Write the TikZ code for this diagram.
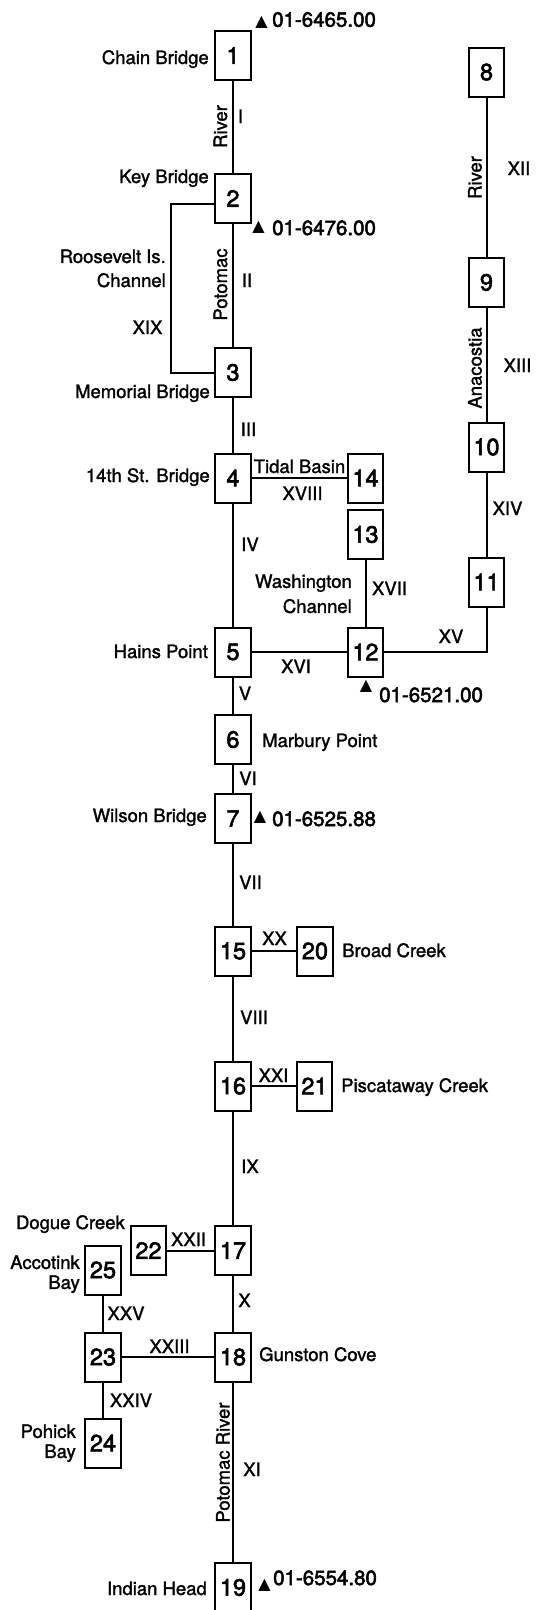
\documentclass[tikz,border=0pt]{standalone}
\usepackage{fontspec}
\setmainfont{TeX Gyre Heros}[FakeBold=1.5]
\newfontfamily\numfont{TeX Gyre Heros}[FakeBold=2.5]
\newfontfamily\symfont{DejaVu Sans}
\begin{document}
\begin{tikzpicture}[x=1pt,y=-1pt,
  box/.style={draw,line width=2pt,minimum width=35.5pt,minimum height=49pt,inner sep=0pt,font=\numfont\fontsize{23.5}{23.5}\selectfont},
  lbl/.style={inner sep=0pt,font=\fontsize{18.5}{24}\selectfont},
  rn/.style={lbl,anchor=base},
  lft/.style={lbl,anchor=base east},
  rgt/.style={lbl,anchor=base west},
  vlbl/.style={lbl,rotate=90},
  gauge/.style={inner sep=0pt,anchor=base west,font=\numfont\fontsize{20.5}{24}\selectfont},
  tri/.style={inner sep=0pt,font=\symfont\fontsize{16}{16}\selectfont},
  conn/.style={line width=2pt}]
\useasboundingbox (0,0) rectangle (540,1610);
\fill[white] (0,0) rectangle (540,1610);
% boxes
\node[box] (n1) at (233,55.5) {1};
\node[box] (n2) at (233,198.5) {2};
\node[box] (n3) at (233,372.5) {3};
\node[box] (n4) at (233,478) {4};
\node[box] (n5) at (233,652) {5};
\node[box] (n6) at (233,739.5) {6};
\node[box] (n7) at (233,818.5) {7};
\node[box] (n15) at (233,951) {15};
\node[box] (n16) at (233,1086) {16};
\node[box] (n17) at (233,1250.5) {17};
\node[box] (n18) at (233,1357) {18};
\node[box] (n19) at (233,1587.5) {19};
\node[box] (n8) at (486.5,72) {8};
\node[box] (n9) at (486.5,282.5) {9};
\node[box] (n10) at (486.5,447) {10};
\node[box] (n11) at (486.5,582) {11};
\node[box] (n12) at (365.5,652) {12};
\node[box] (n13) at (365.5,534.5) {13};
\node[box] (n14) at (365.5,478) {14};
\node[box] (n20) at (315,951) {20};
\node[box] (n21) at (314.5,1086) {21};
\node[box] (n22) at (148.5,1250.5) {22};
\node[box] (n23) at (103,1357) {23};
\node[box] (n24) at (103,1443) {24};
\node[box] (n25) at (103,1270) {25};
% connectors
\draw[conn] (n1) -- (n2);
\draw[conn] (n2) -- (n3);
\draw[conn] (n3) -- (n4);
\draw[conn] (n4) -- (n5);
\draw[conn] (n5) -- (n6);
\draw[conn] (n6) -- (n7);
\draw[conn] (n7) -- (n15);
\draw[conn] (n15) -- (n16);
\draw[conn] (n16) -- (n17);
\draw[conn] (n17) -- (n18);
\draw[conn] (n18) -- (n19);
\draw[conn] (n8) -- (n9);
\draw[conn] (n9) -- (n10);
\draw[conn] (n10) -- (n11);
\draw[conn] (n12) -| (n11);
\draw[conn] (n5) -- (n12);
\draw[conn] (n13) -- (n12);
\draw[conn] (n4) -- (n14);
\coordinate (c19) at (171,204);
\draw[conn] ([yshift=-5.5pt]n2.west) -- (c19) |- (n3.west);
\draw[conn] (n15) -- (n20);
\draw[conn] (n16) -- (n21);
\draw[conn] (n22) -- (n17);
\draw[conn] (n23) -- (n18);
\draw[conn] (n23) -- (n24);
\draw[conn] (n25) -- (n23);
% gauges
\node[tri] (t1) at (261.5,22) {▲};
\node[gauge] (g1) at (272,26.7) {01-6465.00};
\node[tri] (t2) at (258.5,227.5) {▲};
\node[gauge] (g2) at (272,235) {01-6476.00};
\node[tri] (t3) at (366,686.5) {▲};
\node[gauge] (g3) at (379,702) {01-6521.00};
\node[tri] (t4) at (260,817) {▲};
\node[gauge] (g4) at (272,826) {01-6525.88};
\node[tri] (t5) at (264.5,1585.5) {▲};
\node[gauge] (g5) at (273,1585) {01-6554.80};
% place labels
\node[lft] (l1) at (209,64) {Chain Bridge};
\node[lft] (l2) at (209,183) {Key Bridge};
\node[lbl,align=right,anchor=east] (lri) at (166,268.4) {Roosevelt Is.\\Channel};
\node[lft] (l3) at (210,398) {Memorial Bridge};
\node[lft] (l4) at (210,482) {14th St. Bridge};
\node[rn] (ltb) at (299.5,473) {Tidal Basin};
\node[lbl,align=right,anchor=east,font=\fontsize{18.5}{25}\selectfont] (lwc) at (352,593.8) {Washington\\Channel};
\node[lft] (l5) at (208,658) {Hains Point};
\node[rgt] (l6) at (262,747) {Marbury Point};
\node[lft] (l7) at (207,822) {Wilson Bridge};
\node[rgt] (l20) at (342,957) {Broad Creek};
\node[rgt] (l21) at (341,1092) {Piscataway Creek};
\node[lft] (l22) at (125,1229) {Dogue Creek};
\node[lbl,align=right,anchor=east,font=\fontsize{18.5}{20}\selectfont] (l25) at (80,1274.2) {Accotink\\Bay};
\node[rgt] (l18) at (259,1361) {Gunston Cove};
\node[lbl,align=right,anchor=east,font=\fontsize{18.5}{20}\selectfont] (l24) at (76,1443.2) {Pohick\\Bay};
\node[lft] (l19) at (207,1595) {Indian Head};
% river names
\node[vlbl] (v1) at (220.5,126.5) {River};
\node[vlbl] (v2) at (220.5,284.5) {Potomac};
\node[vlbl] (v3) at (475,177.5) {River};
\node[vlbl] (v4) at (475,368) {Anacostia};
\node[vlbl] (v5) at (223,1462.5) {Potomac River};
% segment numerals
\node[rn] (rI) at (240.5,123) {I};
\node[rn] (rII) at (247,287) {II};
\node[rn] (rIII) at (248.5,436) {III};
\node[rn] (rIV) at (250,551) {IV};
\node[rn] (rV) at (245,700) {V};
\node[rn] (rVI) at (248,785) {VI};
\node[rn] (rVII) at (250.5,889) {VII};
\node[rn] (rVIII) at (254,1024) {VIII};
\node[rn] (rIX) at (250,1173) {IX};
\node[rn] (rX) at (244.5,1307) {X};
\node[rn] (rXI) at (252,1476) {XI};
\node[rn] (rXII) at (519,175) {XII};
\node[rn] (rXIII) at (517.5,372) {XIII};
\node[rn] (rXIV) at (507.5,515) {XIV};
\node[rn] (rXV) at (451,643) {XV};
\node[rn] (rXVI) at (296,673) {XVI};
\node[rn] (rXVII) at (389.5,595) {XVII};
\node[rn] (rXVIII) at (302.5,500) {XVIII};
\node[rn] (rXIX) at (147.5,334) {XIX};
\node[rn] (rXX) at (274.5,945) {XX};
\node[rn] (rXXI) at (273.5,1082) {XXI};
\node[rn] (rXXII) at (188.5,1246) {XXII};
\node[rn] (rXXIII) at (169.5,1353) {XXIII};
\node[rn] (rXXIV) at (131,1407) {XXIV};
\node[rn] (rXXV) at (126,1320) {XXV};
\end{tikzpicture}
\end{document}
